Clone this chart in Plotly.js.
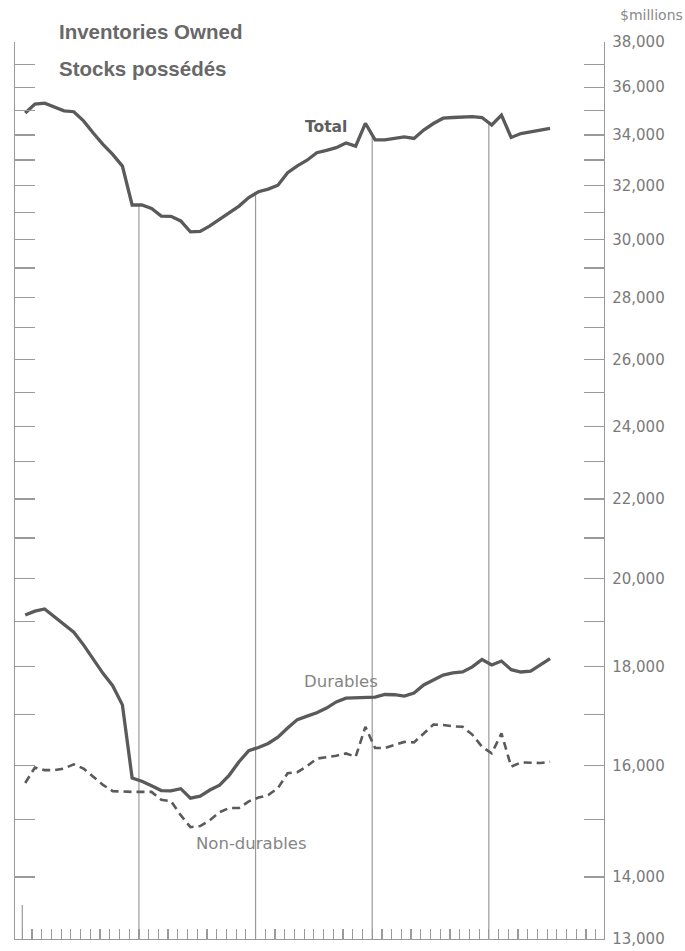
<!DOCTYPE html>
<html>
<head>
<meta charset="utf-8">
<script src="https://cdn.plot.ly/plotly-3.0.1.min.js"></script>
<style>
  html, body { margin: 0; padding: 0; background: #ffffff; }
  #chart { width: 685px; height: 951px; }
</style>
</head>
<body>
<div id="chart"></div>
<script>
// Monthly data, five years starting January (index 0 = first month)
const monthIndex = Array.from({length: 55}, (_, i) => i);

const total = [34910, 35280, 35320, 35160, 35000, 34960, 34580, 34080, 33620, 33220,
  32760, 31270, 31270, 31140, 30860, 30850, 30680, 30280, 30300, 30500,
  30740, 30980, 31230, 31550, 31770, 31870, 32020, 32500, 32770, 32990,
  33290, 33380, 33490, 33680, 33550, 34480, 33800, 33800, 33870, 33920,
  33860, 34200, 34470, 34690, 34720, 34740, 34760, 34720, 34410, 34820,
  33900, 34060, 34140, 34220, 34270];

const durables = [19150, 19240, 19290, 19110, 18930, 18760, 18480, 18160, 17860, 17600,
  17200, 15760, 15700, 15615, 15525, 15520, 15560, 15385, 15420, 15535,
  15625, 15815, 16070, 16285, 16345, 16425, 16550, 16730, 16900, 16970,
  17040, 17135, 17260, 17340, 17345, 17345, 17360, 17415, 17410, 17380,
  17445, 17615, 17715, 17825, 17870, 17890, 18000, 18160, 18040, 18125,
  17940, 17890, 17910, 18050, 18180];

const nonDurables = [15665, 15960, 15910, 15910, 15940, 16020, 15940, 15780, 15630, 15515,
  15505, 15500, 15500, 15500, 15355, 15330, 15075, 14860, 14880, 14985,
  15130, 15205, 15205, 15325, 15395, 15440, 15570, 15850, 15870, 15985,
  16130, 16160, 16185, 16230, 16165, 16755, 16335, 16335, 16400, 16455,
  16445, 16630, 16800, 16790, 16765, 16757, 16600, 16360, 16230, 16625,
  15975, 16055, 16050, 16045, 16070];

const yearStarts = [0, 12, 24, 36, 48];

const axisTickValues = [13000, 14000, 15000, 16000, 17000, 18000, 19000, 20000, 21000,
  22000, 23000, 24000, 25000, 26000, 27000, 28000, 29000, 30000, 31000, 32000,
  33000, 34000, 35000, 36000, 37000, 38000];
const axisTickLabels = ['13,000', '14,000', '', '16,000', '', '18,000', '', '20,000', '',
  '22,000', '', '24,000', '', '26,000', '', '28,000', '', '30,000', '', '32,000',
  '', '34,000', '', '36,000', '', '38,000'];

const yMin = 13000, yMax = 38000;

// position of each monthly reading within its month
const POINT_IN_MONTH = 0.3;
const xs = monthIndex.map(i => i + POINT_IN_MONTH);

const LINE = '#5a5a5a';
const AXIS = '#9a9a9a';
const FONT = 'Liberation Sans, Arial, Helvetica, sans-serif';
const FONT2 = 'DejaVu Sans, Verdana, sans-serif';

function interp(arrX, arrY, x) {
  if (x <= arrX[0]) return arrY[0];
  for (let k = 1; k < arrX.length; k++) {
    if (x <= arrX[k]) {
      const t = (x - arrX[k-1]) / (arrX[k] - arrX[k-1]);
      return arrY[k-1] + t * (arrY[k] - arrY[k-1]);
    }
  }
  return arrY[arrY.length - 1];
}

const traces = [
  {x: xs, y: total, type: 'scatter', mode: 'lines', name: 'Total',
   line: {color: LINE, width: 3.3}, hoverinfo: 'skip'},
  {x: xs, y: durables, type: 'scatter', mode: 'lines', name: 'Durables',
   line: {color: LINE, width: 3.3}, hoverinfo: 'skip'},
  {x: xs, y: nonDurables, type: 'scatter', mode: 'lines', name: 'Non-durables',
   line: {color: LINE, width: 2.6, dash: '8px,5px'}, hoverinfo: 'skip'},
  {x: [xs[0]], y: [total[0]], type: 'scatter', mode: 'markers', yaxis: 'y2',
   marker: {opacity: 0}, hoverinfo: 'skip', showlegend: false}
];

const shapes = [];
yearStarts.forEach((m, k) => {
  if (k === 0) {
    shapes.push({type: 'line', xref: 'x', yref: 'paper', x0: m, x1: m, y0: 0, y1: 0.038,
      line: {color: AXIS, width: 1.2}, layer: 'below'});
  } else {
    shapes.push({type: 'line', xref: 'x', yref: 'y', x0: m, x1: m, y0: yMin,
      y1: interp(xs, total, m), line: {color: AXIS, width: 1.2}, layer: 'below'});
  }
});

// plot area in pixels: left 15, right 604, top 42, bottom 939
const L = 15, R = 604, T = 42, B = 939;
const px = v => (v - L) / (R - L);
const py = v => (B - v) / (B - T);

const annotations = [
  {text: 'Inventories Owned', x: px(57), y: py(32), xref: 'paper', yref: 'paper',
   xanchor: 'left', yanchor: 'middle', showarrow: false,
   font: {family: FONT, size: 20.5, color: '#686868', weight: 'bold'}},
  {text: 'Stocks possédés', x: px(57), y: py(68), xref: 'paper', yref: 'paper',
   xanchor: 'left', yanchor: 'middle', showarrow: false,
   font: {family: FONT, size: 20.5, color: '#686868', weight: 'bold'}},
  {text: 'Total', x: px(326), y: py(127), xref: 'paper', yref: 'paper',
   xanchor: 'center', yanchor: 'middle', showarrow: false,
   font: {family: FONT2, size: 15.5, color: '#5e5e5e', weight: 'bold'}},
  {text: 'Durables', x: px(341), y: py(681), xref: 'paper', yref: 'paper',
   xanchor: 'center', yanchor: 'middle', showarrow: false,
   font: {family: FONT2, size: 16.5, color: '#858585'}},
  {text: 'Non-durables', x: px(251), y: py(843), xref: 'paper', yref: 'paper',
   xanchor: 'center', yanchor: 'middle', showarrow: false,
   font: {family: FONT2, size: 16.5, color: '#858585'}},
  {text: '$millions', x: px(651), y: py(15), xref: 'paper', yref: 'paper',
   xanchor: 'center', yanchor: 'middle', showarrow: false,
   font: {family: FONT2, size: 14, color: '#8a8a8a'}}
];

const layout = {
  width: 685, height: 951,
  margin: {l: L, r: 685 - R, t: T, b: 951 - B, pad: 0},
  paper_bgcolor: '#ffffff', plot_bgcolor: '#ffffff',
  showlegend: false,
  xaxis: {
    range: [-0.75, 59.85], showgrid: false, zeroline: false,
    showline: true, linecolor: AXIS, linewidth: 1.2,
    ticks: 'inside', ticklen: 10, tickwidth: 1.2, tickcolor: AXIS,
    tickmode: 'linear', tick0: 0, dtick: 1, showticklabels: false, fixedrange: true
  },
  yaxis: {
    type: 'log', range: [Math.log10(yMin), Math.log10(yMax)],
    showgrid: false, zeroline: false, showline: true, linecolor: AXIS, linewidth: 1.2,
    ticks: 'inside', ticklen: 20, tickwidth: 1.2, tickcolor: AXIS,
    tickmode: 'array', tickvals: axisTickValues.slice(1), showticklabels: false, fixedrange: true
  },
  yaxis2: {
    type: 'log', range: [Math.log10(yMin), Math.log10(yMax)], overlaying: 'y', side: 'right',
    showgrid: false, zeroline: false, showline: true, linecolor: AXIS, linewidth: 1.2,
    ticks: 'inside', ticklen: 20, tickwidth: 1.2, tickcolor: AXIS,
    tickmode: 'array', tickvals: axisTickValues, ticktext: axisTickLabels,
    ticklabelstandoff: 4,
    tickfont: {family: FONT2, size: 15, color: '#7a7a7a'}, fixedrange: true
  },
  shapes: shapes,
  annotations: annotations
};

Plotly.newPlot('chart', traces, layout, {displayModeBar: false, staticPlot: true});
</script>
</body>
</html>
